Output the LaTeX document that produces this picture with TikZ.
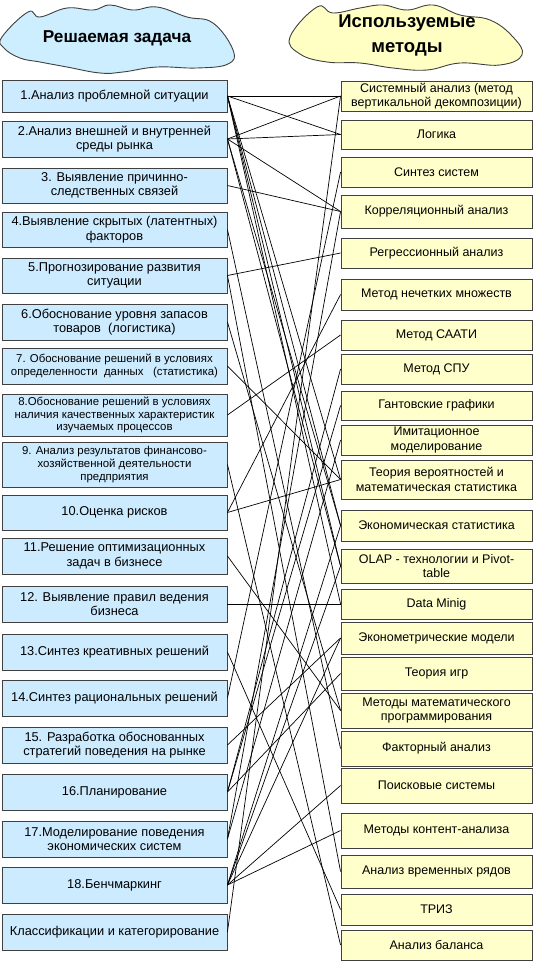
\documentclass[tikz,border=0pt]{standalone}
\usepackage{fontspec}
\setmainfont{Liberation Sans}
\definecolor{lfill}{HTML}{CCEBFF}
\definecolor{rfill}{HTML}{FFFFCC}
\definecolor{cloudL}{HTML}{CCEEFF}
\definecolor{cloudR}{HTML}{FFFFC4}
\definecolor{edge}{HTML}{404040}
\tikzset{
  lbox/.style={draw=edge, fill=lfill, line width=0.9pt, minimum width=225pt, align=center,
    font=\fontsize{12.8}{14.5}\selectfont, inner sep=1pt},
  rbox/.style={draw=edge, fill=rfill, line width=0.9pt, minimum width=191pt, align=center,
    font=\fontsize{12.5}{14.5}\selectfont, inner sep=1pt},
  small/.style={font=\fontsize{11.4}{12.8}\selectfont},
  link/.style={line width=0.7pt, black},
  cloud/.style={draw=edge, line width=0.9pt},
  headl/.style={font=\fontsize{17.2}{20}\selectfont\bfseries, align=center},
  headr/.style={font=\fontsize{18.5}{25}\selectfont\bfseries, align=center}
}
\newcommand\LB[5][]{\node[lbox,#1, minimum height={#4pt-#3pt}] (#2) at (114.5,{(#3+#4)/2}) {#5};}
\newcommand\RB[5][]{\node[rbox,#1, minimum height={#4pt-#3pt}] (#2) at (436.5,{(#3+#4)/2}) {#5};}
\begin{document}
\begin{tikzpicture}[x=1pt,y=-1pt]
\useasboundingbox (0,0) rectangle (540,962);
% clouds
\draw[cloud, fill=cloudL] plot[smooth cycle, tension=0.7] coordinates {
 (2,37) (28,12) (40,17) (67,8) (93,10) (110,5) (133,10) (157,7) (187,17) (213,23) (233,50)
 (228,64) (197,68) (157,67) (123,72) (100,73) (67,67) (40,62) (20,58) (4,48)};
\node[headl] (hl) at (117,38) {Решаемая задача};
\draw[cloud, fill=cloudR] plot[smooth cycle, tension=0.7] coordinates {
 (290,37) (317,7) (333,13) (360,8) (383,5) (407,10) (433,5) (460,15) (490,20) (513,37)
 (522,55) (500,65) (460,63) (427,70) (393,68) (360,63) (327,62) (300,54)};
\node[headr] (hr) at (407,35) {Используемые\\методы};
% links (drawn first, boxes on top)
\begin{scope}[on background layer/.style={}]
\end{scope}
% left boxes
\LB{l1}{80}{112}{1.Анализ проблемной ситуации}
\LB{l2}{121}{157}{2.Анализ внешней и внутренней\\среды рынка}
\LB{l3}{168}{203}{3. Выявление причинно-\\следственных связей}
\LB{l4}{212}{247}{4.Выявление скрытых (латентных)\\факторов}
\LB{l5}{258}{293}{5.Прогнозирование развития\\ситуации}
\LB{l6}{304}{340}{6.Обоснование уровня запасов\\товаров~ (логистика)}
\LB[small]{l7}{348}{384}{7. Обоснование решений в условиях\\определенности~ данных~~ (статистика)}
\LB[small]{l8}{394}{436}{8.Обоснование решений в условиях\\наличия качественных характеристик\\изучаемых процессов}
\LB[small]{l9}{442}{487}{9. Анализ результатов финансово-\\хозяйственной деятельности\\предприятия}
\LB{l10}{495}{530}{10.Оценка рисков}
\LB{l11}{538}{574}{11.Решение оптимизационных\\задач в бизнесе}
\LB{l12}{586}{622}{12. Выявление правил ведения\\бизнеса}
\LB{l13}{634}{670}{13.Синтез креативных решений}
\LB{l14}{680}{716}{14.Синтез рациональных решений}
\LB{l15}{727}{763}{15. Разработка обоснованных\\стратегий поведения на рынке}
\LB{l16}{774}{810}{16.Планирование}
\LB{l17}{821}{857}{17.Моделирование поведения\\экономических систем}
\LB{l18}{867}{903}{18.Бенчмаркинг}
\LB{l19}{914}{950}{Классификации и категорирование}
% right boxes
\RB{r1}{81}{111}{Системный анализ (метод\\вертикальной декомпозиции)}
\RB{r2}{120}{149}{Логика}
\RB{r3}{157}{187}{Синтез систем}
\RB{r4}{195}{228}{Корреляционный анализ}
\RB{r5}{238}{268}{Регрессионный анализ}
\RB{r6}{279}{310}{Метод нечетких множеств}
\RB{r7}{320}{350}{Метод СААТИ}
\RB{r8}{354}{384}{Метод СПУ}
\RB{r9}{391}{420}{Гантовские графики}
\RB{r10}{425}{455}{Имитационное\\моделирование}
\RB{r11}{460}{499}{Теория вероятностей и\\математическая статистика}
\RB{r12}{510}{541}{Экономическая статистика}
\RB{r13}{549}{583}{OLAP - технологии и Pivot-\\table}
\RB{r14}{589}{619}{Data Minig}
\RB{r15}{622}{654}{Эконометрические модели}
\RB{r16}{657}{690}{Теория игр}
\RB{r17}{693}{728}{Методы математического\\программирования}
\RB{r18}{731}{766}{Факторный анализ}
\RB{r19}{768}{803}{Поисковые системы}
\RB{r20}{813}{848}{Методы контент-анализа}
\RB{r21}{855}{888}{Анализ временных рядов}
\RB{r22}{894}{925}{ТРИЗ}
\RB{r23}{930}{960}{Анализ баланса}
% links
\foreach \a/\b in {l1/r1, l1/r2, l1/r11, l1/r12, l1/r13, l1/r14,
  l2/r1, l2/r2, l2/r4, l2/r12, l2/r13,
  l3/r4, l4/r18, l5/r5, l5/r21, l6/r17, l7/r11, l8/r7, l9/r23,
  l10/r6, l10/r11, l11/r17, l12/r14, l13/r22, l14/r3, l15/r15,
  l16/r8, l16/r9, l16/r16, l17/r4, l17/r10,
  l18/r12, l18/r13, l18/r15, l18/r19, l18/r20, l19/r1}
  \draw[link] (\a.east) -- (\b.west);
\end{tikzpicture}
\end{document}
